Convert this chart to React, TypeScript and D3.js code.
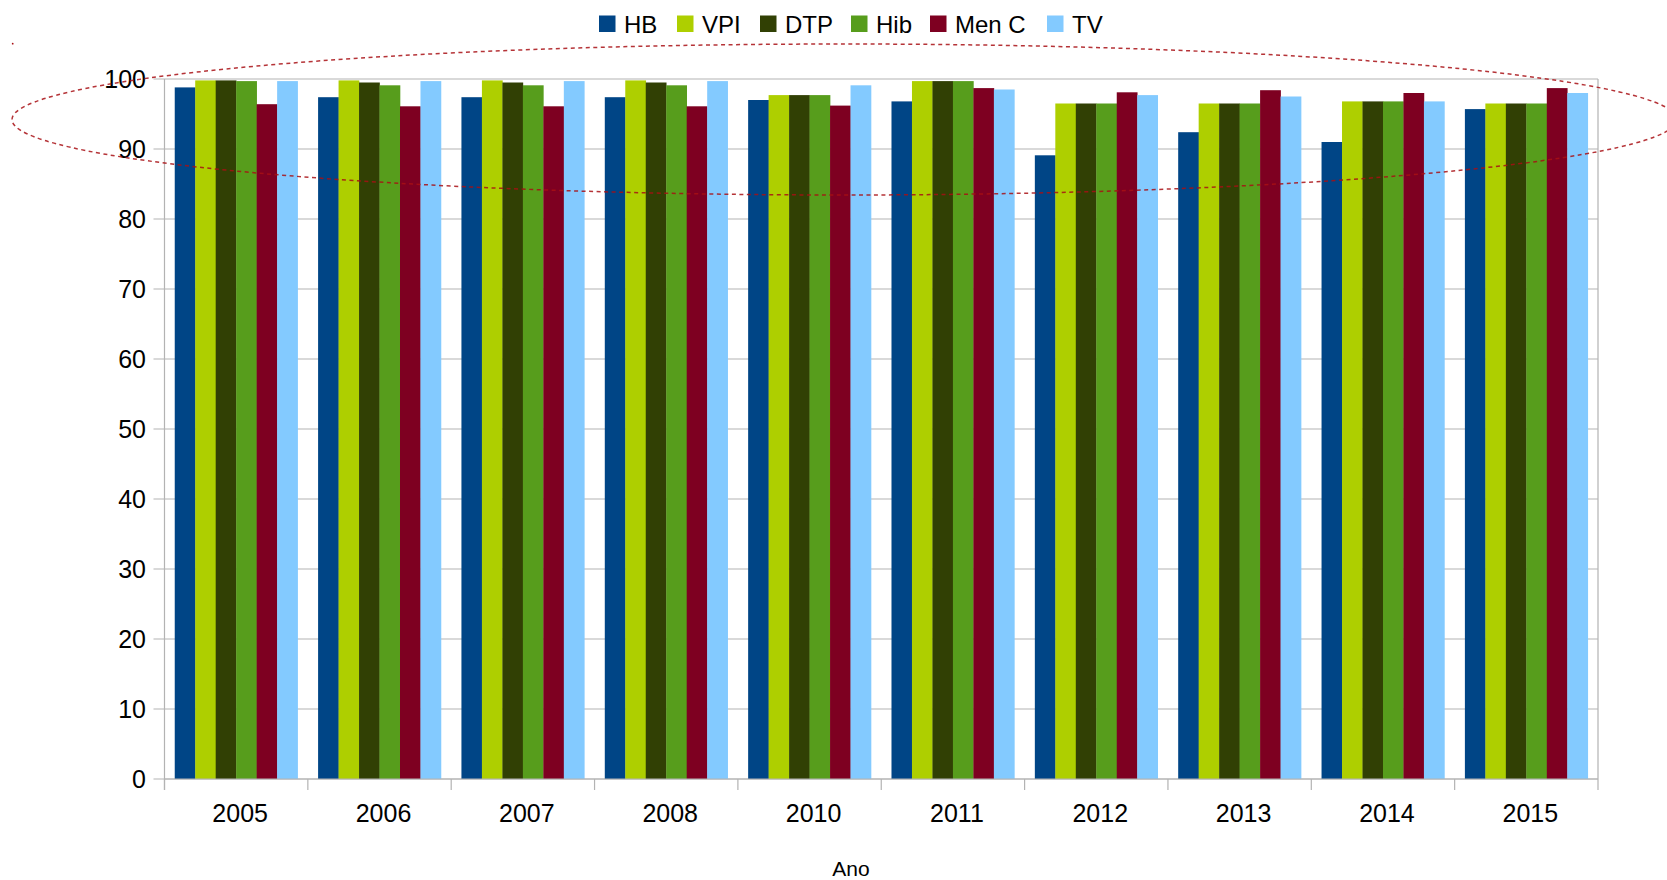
import React from "react";
import * as d3 from "d3";

const years = ["2005", "2006", "2007", "2008", "2010", "2011", "2012", "2013", "2014", "2015"];
const seriesNames = ["HB", "VPI", "DTP", "Hib", "Men C", "TV"];
const seriesColors = ["#004586", "#aecf00", "#314004", "#579d1c", "#7e0021", "#83caff"];
const HB = [98.8, 97.4, 97.4, 97.4, 97.0, 96.8, 89.1, 92.4, 91.0, 95.7];
const VPI = [99.8, 99.8, 99.8, 99.8, 97.7, 99.7, 96.5, 96.5, 96.8, 96.5];
const DTP = [99.8, 99.5, 99.5, 99.5, 97.7, 99.7, 96.5, 96.5, 96.8, 96.5];
const Hib = [99.7, 99.1, 99.1, 99.1, 97.7, 99.7, 96.5, 96.5, 96.8, 96.5];
const MenC = [96.4, 96.1, 96.1, 96.1, 96.2, 98.7, 98.1, 98.4, 98.0, 98.7];
const TV = [99.7, 99.7, 99.7, 99.7, 99.1, 98.5, 97.7, 97.5, 96.8, 98.0];
const yTicks = [0, 10, 20, 30, 40, 50, 60, 70, 80, 90, 100];
const xTitle = "Ano";

const seriesValues = [HB, VPI, DTP, Hib, MenC, TV];

const W = 1667;
const H = 880;
const left = 164.5;
const right = 1598;
const top = 79;
const bottom = 779;
const FONT = "'Liberation Sans', Arial, sans-serif";
const GRID = "#b3b3b3";

export default function App() {
  const x = d3.scaleBand<string>().domain(years).range([left, right]).padding(0);
  const bw = x.bandwidth();
  const unit = bw / 7;
  const xs = d3
    .scaleBand<string>()
    .domain(seriesNames)
    .range([unit * 0.5, bw - unit * 0.5])
    .padding(0);
  const y = d3.scaleLinear().domain([0, 100]).range([bottom, top]);

  // legend layout
  const legendX = [599, 677, 760, 851, 930, 1047];

  return (
    <div style={{ position: "absolute", left: 0, top: 0 }}>
      <svg width={W} height={H} style={{ display: "block", background: "#fff" }}>
        {/* gridlines */}
        {yTicks.map((t) => (
          <line key={"g" + t} x1={left - 11} x2={right} y1={y(t)} y2={y(t)} stroke={GRID} strokeWidth={1.2} />
        ))}
        {/* bars */}
        {years.map((yr, i) => (
          <g key={yr} transform={`translate(${x(yr)},0)`}>
            {seriesNames.map((s, j) => {
              const v = seriesValues[j][i];
              return (
                <rect
                  key={s}
                  x={xs(s)}
                  y={y(v)}
                  width={xs.bandwidth() + 0.3}
                  height={y(0) - y(v)}
                  fill={seriesColors[j]}
                />
              );
            })}
          </g>
        ))}
        {/* axes */}
        <line x1={left} x2={left} y1={top} y2={bottom + 11} stroke={GRID} strokeWidth={1.2} />
        <line x1={right} x2={right} y1={top} y2={bottom + 11} stroke={GRID} strokeWidth={1.2} />
        <line x1={left} x2={right} y1={bottom} y2={bottom} stroke={GRID} strokeWidth={1.2} />
        {years.map((yr) => (
          <line key={"t" + yr} x1={x(yr)} x2={x(yr)} y1={bottom} y2={bottom + 11} stroke={GRID} strokeWidth={1.2} />
        ))}
        {/* y labels */}
        {yTicks.map((t) => (
          <text
            key={"yl" + t}
            x={146}
            y={y(t)}
            dy="0.36em"
            textAnchor="end"
            fontFamily={FONT}
            fontSize={25}
            fill="#000"
          >
            {t}
          </text>
        ))}
        {/* x labels */}
        {years.map((yr) => (
          <text
            key={"xl" + yr}
            x={(x(yr) as number) + bw / 2 + 4}
            y={822}
            textAnchor="middle"
            fontFamily={FONT}
            fontSize={25}
            fill="#000"
          >
            {yr}
          </text>
        ))}
        <text x={851} y={876} textAnchor="middle" fontFamily={FONT} fontSize={21} fill="#000">
          {xTitle}
        </text>
        {/* legend */}
        {seriesNames.map((s, j) => (
          <g key={"lg" + s}>
            <rect x={legendX[j]} y={15.5} width={16.5} height={16.5} fill={seriesColors[j]} />
            <text x={legendX[j] + 25} y={32.5} fontFamily={FONT} fontSize={24} fill="#000">
              {s}
            </text>
          </g>
        ))}
        {/* dashed ellipse annotation */}
        <ellipse
          cx={844.5}
          cy={119.5}
          rx={832.5}
          ry={75.5}
          fill="none"
          stroke="#a80f14"
          strokeOpacity={0.85}
          strokeWidth={1.5}
          strokeDasharray="4 3.5"
        />
        <circle cx={12.7} cy={43.7} r={0.9} fill="#a80f14" />
      </svg>
    </div>
  );
}
